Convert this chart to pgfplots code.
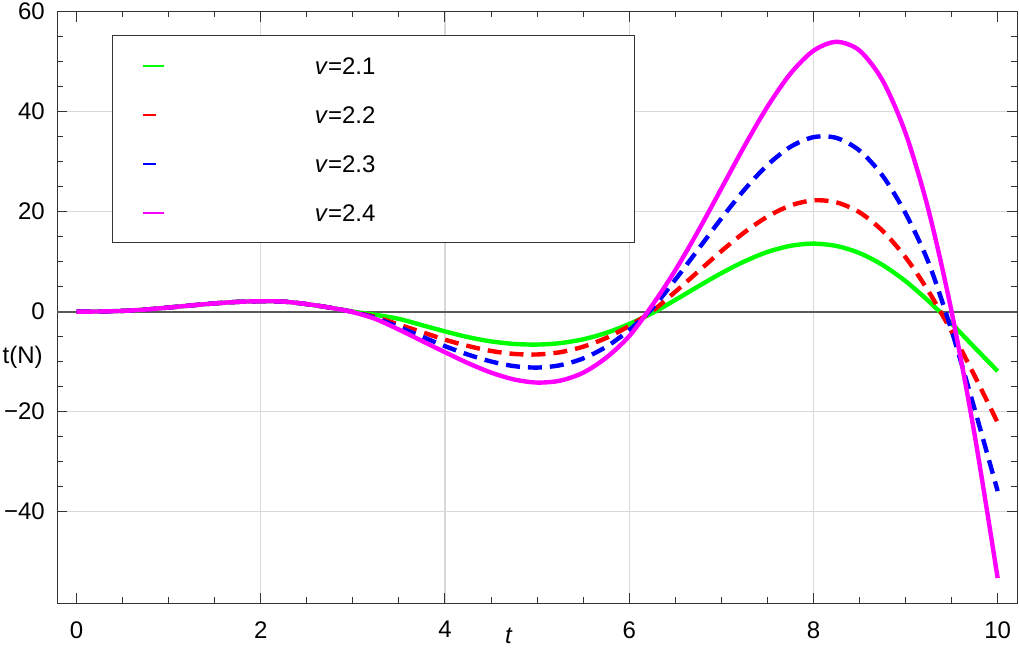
\documentclass[border=0pt]{standalone}
\usepackage{fontspec}
\setmainfont{Liberation Sans}
\usepackage{pgfplots}
\pgfplotsset{compat=1.18}
\usepackage{pgfplotstable}

\definecolor{mgreen}{RGB}{0,255,0}
\definecolor{mred}{RGB}{255,0,0}
\definecolor{mblue}{RGB}{0,0,255}
\definecolor{mmag}{RGB}{255,0,255}

\pgfplotstableread{
t     g      r      b      m
0     0      0      0      0
0.25  0.03   0.03   0.03   0.03
0.5   0.15   0.15   0.15   0.15
0.75  0.42   0.42   0.42   0.42
1     0.82   0.82   0.82   0.82
1.25  1.25   1.25   1.25   1.25
1.5   1.65   1.65   1.65   1.65
1.75  1.95   1.95   1.95   1.95
2     2.08   2.08   2.08   2.08
2.25  2.0    2.0    2.0    2.0
2.5   1.5    1.5    1.5    1.5
2.75  0.8    0.8    0.8    0.8
3     0.0   -0.05  -0.08  -0.1
3.25 -0.65  -1.1   -1.3   -1.5
3.5  -1.45  -2.6   -3.1   -3.6
3.75 -2.7   -4.1   -5.0   -5.86
4    -3.95  -5.61  -6.91  -8.12
4.25 -5.1   -6.87  -8.59  -10.3
4.5  -5.95  -7.86  -9.97  -12.19
4.75 -6.46  -8.46  -10.9  -13.57
5    -6.59  -8.57  -11.19 -14.19
5.25 -6.3   -8.12  -10.72 -13.81
5.5  -5.53  -7.02  -9.36  -12.22
5.75 -4.26  -5.27  -7.04  -9.22
6    -2.48  -2.86  -3.7   -4.9
6.25 -0.3    0.1    0.65   1.27
6.5   2.33   3.97   6.38   8.26
6.75  5.06   8.04   12.49  16.17
7     7.69   12.1   18.63  24.61
7.25  10.04  15.85  24.38  33.08
7.5   11.93  19.0   29.31  40.98
7.75  13.16  21.22  32.96  47.6
8     13.6   22.26  34.9   52.19
8.25  13.13  21.86  34.75  53.97
8.5   11.72  19.87  32.22  52.23
8.75  9.34   16.18  27.21  46.26
9     6.1    10.87  19.66  35.72
9.25  2.11   4.05   9.8    20.26
9.5  -2.39  -3.98  -3.8    0
9.75 -7.18  -12.85 -19.5  -24.64
10   -11.9  -22.2  -35.9  -53.3
}\data

\newcommand\lgtext[1]{\makebox[160pt][l]{\rule[-7.95pt]{0pt}{24.5pt}\textit{v}=#1}}

\begin{document}
\begin{tikzpicture}
\begin{axis}[
  scale only axis,
  width=480pt, height=295.75pt,
  xmin=-0.21, xmax=10.21, ymin=-58.3, ymax=60,
  xtick={0,2,4,6,8,10}, xticklabels={0,2,4,6,8,10},
  ytick={-40,-20,0,20,40,60}, yticklabels={−40,−20,0,20,40,60},
  minor x tick num=3, minor y tick num=3,
  tick align=inside, major tick length=5pt, minor tick length=2.8pt,
  tick style={black!80, line width=0.5pt},
  axis line style={black!80, line width=0.5pt},
  /pgf/number format/assume math mode=true,
  tick label style={font=\fontsize{12}{14}\selectfont},
  xticklabel style={inner sep=0pt, anchor=north, yshift=-9pt},
  yticklabel style={inner sep=0pt, anchor=east, xshift=-6pt},
  extra x ticks={2,4,6,8}, extra x tick labels={},
  extra y ticks={-40,-20,20,40}, extra y tick labels={},
  extra x tick style={grid=major},
  extra y tick style={grid=major},
  major grid style={gray!30, line width=0.7pt},
  xlabel={\textit{t}}, ylabel={t(N)},
  every axis x label/.style={at={(axis description cs:0.4706,0)}, anchor=north, inner sep=0pt, yshift=-12.5pt, font=\fontsize{12}{14}\selectfont},
  every axis y label/.style={at={(axis description cs:0,0.416)}, anchor=east, inner sep=0pt, xshift=-7.1pt, font=\fontsize{12}{14}\selectfont},
  legend cell align=left,
  legend style={at={(axis description cs:0.0571,0.9606)}, anchor=north west,
    draw=black!80, line width=0.6pt, inner xsep=0pt, inner ysep=2.75pt,
    nodes={inner sep=0pt, text depth=7.95pt}, row sep=0pt,
    font=\fontsize{12}{14}\selectfont,
    /tikz/every odd column/.append style={column sep=74.2pt}},
]
\addplot[black!65, line width=0.9pt, forget plot] coordinates {(-0.21,0) (10.21,0)};
\addplot[mgreen, line width=2.2pt, smooth,
  legend image code/.code={\path (0pt,-1pt) (24.8pt,1pt); \draw[draw=mgreen, solid, line width=1pt] (14pt,0pt) -- (24.8pt,0pt);}]
  table[x=t, y=g] {\data};
\addlegendentry{\lgtext{2.1}}
\addplot[mred, line width=2.2pt, smooth, dash pattern=on 7pt off 4pt,
  legend image code/.code={\path (0pt,-1pt) (24.8pt,1pt); \draw[draw=mred, solid, line width=1pt] (14pt,0pt) -- (20.5pt,0pt);}]
  table[x=t, y=r] {\data};
\addlegendentry{\lgtext{2.2}}
\addplot[mblue, line width=2.2pt, smooth, dash pattern=on 7pt off 4pt,
  legend image code/.code={\path (0pt,-1pt) (24.8pt,1pt); \draw[draw=mblue, solid, line width=1pt] (14pt,0pt) -- (20.5pt,0pt);}]
  table[x=t, y=b] {\data};
\addlegendentry{\lgtext{2.3}}
\addplot[mmag, line width=2.2pt, smooth,
  legend image code/.code={\path (0pt,-1pt) (24.8pt,1pt); \draw[draw=mmag, solid, line width=1pt] (14pt,0pt) -- (24.8pt,0pt);}]
  table[x=t, y=m] {\data};
\addlegendentry{\lgtext{2.4}}
\end{axis}
\pgfresetboundingbox
\useasboundingbox (-28.6pt,-22.5pt) rectangle (481pt,301.6pt);
\end{tikzpicture}
\end{document}
